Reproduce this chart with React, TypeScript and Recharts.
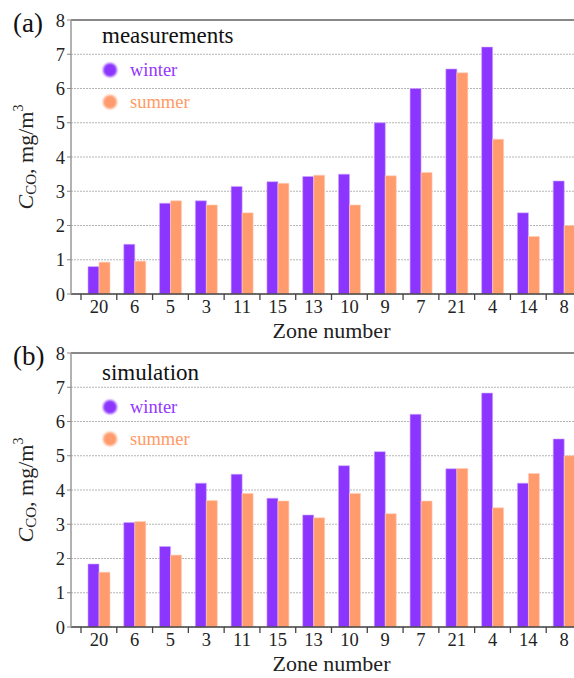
import React from "react";
import { BarChart, Bar, XAxis, YAxis, CartesianGrid, ReferenceLine, Label } from "recharts";

const zones = ["20", "6", "5", "3", "11", "15", "13", "10", "9", "7", "21", "4", "14", "8"];
const measuredWinter = [0.8, 1.45, 2.65, 2.72, 3.14, 3.28, 3.43, 3.5, 5.0, 6.0, 6.57, 7.21, 2.37, 3.3];
const measuredSummer = [0.93, 0.96, 2.72, 2.6, 2.37, 3.23, 3.47, 2.6, 3.45, 3.55, 6.46, 4.52, 1.68, 2.0];
const simWinter = [1.84, 3.05, 2.35, 4.2, 4.46, 3.76, 3.27, 4.71, 5.12, 6.21, 4.62, 6.83, 4.2, 5.49];
const simSummer = [1.6, 3.08, 2.1, 3.69, 3.9, 3.68, 3.19, 3.9, 3.31, 3.68, 4.63, 3.48, 4.48, 5.0];
const yTicks = [0, 1, 2, 3, 4, 5, 6, 7, 8];

const WINTER = "#8c35ff";
const SUMMER = "#ff9b6d";
const FONT = "Liberation Serif, DejaVu Serif, serif";

const W = 582;
const H = 345;
const AXIS_W = 71;
const PAD_L = 10;
const BAND = (W - AXIS_W - PAD_L) / zones.length;

const build = (w: number[], s: number[]) =>
  zones.map((z, i) => ({ zone: z, winter: w[i], summer: s[i] }));

// ticks sit on the category boundaries, labels in the middle
const XTick = (props: any) => {
  const { x, y, payload } = props;
  return (
    <g>
      <line x1={x - BAND / 2} x2={x - BAND / 2} y1={y} y2={y + 6} stroke="#444" strokeWidth={1.3} />
      <text x={x} y={y + 6} dy="0.71em" textAnchor="middle" fontSize={18.5} fontFamily={FONT} fill="#222">
        {payload.value}
      </text>
    </g>
  );
};

const YLabel = (props: any) => {
  const vb = props.viewBox;
  const cx = 28;
  const cy = vb.y + vb.height / 2;
  return (
    <text
      x={cx}
      y={cy}
      transform={`rotate(-90 ${cx} ${cy})`}
      textAnchor="middle"
      dominantBaseline="middle"
      fontSize={22}
      fontFamily={FONT}
      fill="#222"
    >
      <tspan fontStyle="italic">C</tspan>
      <tspan fontSize={15} dy={5}>CO</tspan>
      <tspan dy={-5}>, mg/m</tspan>
      <tspan fontSize={14} dy={-8}>3</tspan>
    </text>
  );
};

const XLabel = (props: any) => {
  const vb = props.viewBox;
  return (
    <text
      x={vb.x + PAD_L + (vb.width - PAD_L) / 2}
      y={vb.y + 39}
      textAnchor="middle"
      dominantBaseline="middle"
      fontSize={22}
      fontFamily={FONT}
      fill="#222"
    >
      Zone number
    </text>
  );
};

const Dot = ({ color }: { color: string }) => (
  <span
    style={{
      position: "absolute",
      left: -27,
      top: 3,
      width: 14,
      height: 14,
      borderRadius: "50%",
      background: color,
      filter: "blur(1px)",
    }}
  />
);

function Panel({ top, letter, title, winter, summer }: any) {
  const data = build(winter, summer);
  return (
    <div style={{ position: "absolute", left: 0, top, width: W, height: H }}>
      <BarChart width={W} height={H} data={data} margin={{ top: 20, right: 0, bottom: 0, left: 0 }} barCategoryGap={7} barGap={0}>
        <CartesianGrid vertical={false} stroke="#b5b5b5" strokeDasharray="2 1" />
        <XAxis
          dataKey="zone"
          height={51}
          padding={{ left: PAD_L, right: 0 }}
          tickLine={false}
          tickSize={0}
          tickMargin={0}
          interval={0}
          tick={<XTick />}
          axisLine={{ stroke: "#444", strokeWidth: 1.5 }}
        >
          <Label content={<XLabel />} />
        </XAxis>
        <YAxis
          width={AXIS_W}
          domain={[0, 8]}
          ticks={yTicks}
          interval={0}
          tickSize={4}
          tickLine={{ stroke: "#888" }}
          axisLine={{ stroke: "#999", strokeWidth: 1.5 }}
          tick={{ fontSize: 18.5, fontFamily: FONT, fill: "#222" }}
        >
          <Label content={<YLabel />} />
        </YAxis>
        <ReferenceLine y={8} stroke="#888" strokeWidth={2} />
        <Bar dataKey="winter" fill={WINTER} stroke="#cfa8ff" strokeWidth={0.6} isAnimationActive={false} />
        <Bar dataKey="summer" fill={SUMMER} stroke="#ffd2bd" strokeWidth={0.6} isAnimationActive={false} />
      </BarChart>
      <div style={{ position: "absolute", left: 13, top: 8, fontFamily: FONT, fontSize: 27, color: "#111", lineHeight: "30px" }}>{letter}</div>
      <div style={{ position: "absolute", left: 102, top: title.top, fontFamily: FONT, fontSize: 23, color: "#111", lineHeight: "26px" }}>
        {title.text}
      </div>
      <div style={{ position: "absolute", left: 130, top: title.top + 37, fontFamily: FONT, fontSize: 18.5, color: "#9436ff", lineHeight: "20px" }}>
        <Dot color={WINTER} />
        winter
      </div>
      <div style={{ position: "absolute", left: 130, top: title.top + 69, fontFamily: FONT, fontSize: 18.5, color: "#ff9a66", lineHeight: "20px" }}>
        <Dot color={SUMMER} />
        summer
      </div>
    </div>
  );
}

export default function App() {
  return (
    <div style={{ position: "absolute", left: 0, top: 0, width: 574, height: 678, overflow: "hidden", background: "#fff" }}>
      <Panel top={0} letter="(a)" title={{ text: "measurements", top: 23 }} winter={measuredWinter} summer={measuredSummer} />
      <Panel top={333} letter="(b)" title={{ text: "simulation", top: 27 }} winter={simWinter} summer={simSummer} />
    </div>
  );
}
